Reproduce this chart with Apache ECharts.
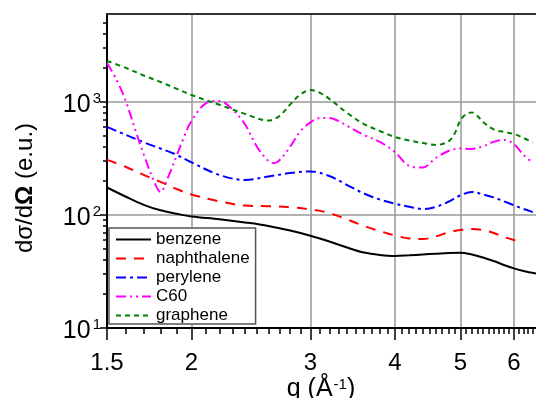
<!DOCTYPE html>
<html><head><meta charset="utf-8">
<script src="https://cdn.jsdelivr.net/npm/echarts@6/dist/echarts.min.js"></script>
<style>html,body{margin:0;padding:0;background:#fff}#c{width:536px;height:398px}</style>
</head><body><div id="c"></div>
<script>
const FONT = '"Liberation Sans", Arial, sans-serif';

// tick values
const xMajorTicks = [1.5, 2, 3, 4, 5, 6];
const xMinorTicks = [1.6, 1.7, 1.8, 1.9, 2.1, 2.2, 2.3, 2.4, 2.5, 2.6, 2.7, 2.8, 2.9,
  3.1, 3.2, 3.3, 3.4, 3.5, 3.6, 3.7, 3.8, 3.9, 4.1, 4.2, 4.3, 4.4, 4.5, 4.6, 4.7, 4.8, 4.9,
  5.1, 5.2, 5.3, 5.4, 5.5, 5.6, 5.7, 5.8, 5.9, 6.1, 6.2, 6.3, 6.4];
const yMajorTicks = [10, 100, 1000];
const yMinorTicks = [20, 30, 40, 50, 60, 70, 80, 90, 200, 300, 400, 500, 600, 700, 800, 900, 2000, 3000, 4000, 5000];
const xTickLabels = ['1.5', '2', '3', '4', '5', '6'];
const yTickExponents = ['1', '2', '3'];

// series data (q in 1/Å, dσ/dΩ in e.u.)
const benzeneQ = [1.5,1.6,1.7,1.8,1.9,2.0,2.2,2.4,2.6,2.8,3.0,3.2,3.4,3.6,3.8,4.0,4.2,4.4,4.6,4.8,5.0,5.2,5.4,5.6,5.8,6.0,6.2,6.47];
const benzene  = [175,145,123,110,102.6,97,91.7,85.9,80,72.9,65.6,58.3,51.5,46.5,44.3,43.4,44,44.7,45.4,46.1,46.4,44.7,42.1,39.2,36.1,33.7,31.9,30.3];

const naphthaleneQ = [1.5,1.6,1.7,1.8,1.9,2.0,2.2,2.4,2.6,2.8,3.0,3.2,3.4,3.6,3.8,4.0,4.2,4.4,4.6,4.8,5.0,5.2,5.4,5.6,5.8,6.0,6.2];
const naphthalene  = [307,266,226,196,170,152,132,121,119.6,117,112,104,91.2,80,72.1,65.9,62,61.3,64.6,70,73.6,75.2,73.6,69.3,63.9,60.1,57.2];

const peryleneQ = [1.5,1.6,1.7,1.8,1.9,2.0,2.2,2.4,2.6,2.8,3.0,3.2,3.4,3.6,3.8,4.0,4.2,4.4,4.6,4.8,5.0,5.2,5.4,5.6,5.8,6.0,6.2,6.4];
const perylene  = [601,511,440,387,341,292,226,204,219,235,243,221,184,155,137,126,118,113,118,131,149,160,152,143,132,122,113,106];

const c60Q = [1.5,1.55,1.6,1.65,1.7,1.75,1.8,1.85,1.9,1.95,2.0,2.1,2.2,2.3,2.4,2.5,2.6,2.65,2.7,2.8,2.9,3.0,3.1,3.2,3.3,3.4,3.6,3.8,4.0,4.2,4.4,4.6,4.8,5.0,5.2,5.4,5.6,5.8,6.0,6.2,6.4];
const c60  = [2213,1567,1009,577,343,217,160,221,330,490,679,970,1021,859,635,402,300,287,305,402,553,659,721,721,679,614,511,443,361,272,263,319,368,387,384,404,443,461,425,340,289];

const grapheneQ = [1.5,1.6,1.7,1.8,1.9,2.0,2.2,2.4,2.6,2.7,2.8,2.9,3.0,3.1,3.2,3.4,3.6,3.8,4.0,4.2,4.4,4.6,4.8,4.9,5.0,5.1,5.2,5.3,5.4,5.6,5.8,6.0,6.2,6.4];
const graphene  = [2307,2000,1714,1503,1310,1153,944,785,685,752,951,1164,1277,1202,1064,800,638,553,490,456,433,416,447,521,686,783,807,752,665,571,543,521,480,438];

const seriesNames = ['benzene', 'naphthalene', 'perylene', 'C60', 'graphene'];

function pairs(xs, ys) { return xs.map((x, i) => [x, ys[i]]); }

const X_MIN = 1.5, X_MAX = 6.47, Y_MIN = 10, Y_MAX = 6000;

function lineSeries(name, data, color, type) {
  return {
    name, type: 'line', data, xAxisIndex: 0, yAxisIndex: 0,
    symbol: 'none', showSymbol: false, smooth: 0.35, clip: true,
    lineStyle: { color, width: 2, type },
    itemStyle: { color }
  };
}

const chart = echarts.init(document.getElementById('c'), null, { renderer: 'canvas' });
const tickStyle = { color: '#000', width: 1.5 };
chart.setOption({
  animation: false,
  backgroundColor: '#fff',
  grid: { left: 107, right: 0, top: 14, bottom: 70, containLabel: false },
  xAxis: [
    {
      type: 'log', logBase: 10, min: X_MIN, max: X_MAX, position: 'bottom',
      axisLine: { show: true, lineStyle: { color: '#000', width: 2 } },
      axisTick: { show: true, customValues: xMajorTicks, length: 12, lineStyle: tickStyle },
      axisLabel: {
        show: true, customValues: xMajorTicks, margin: 23, fontSize: 24, fontFamily: FONT, color: '#000',
        formatter: (v) => { const i = xMajorTicks.findIndex(t => Math.abs(t - v) < 1e-6); return i >= 0 ? xTickLabels[i] : ''; }
      },
      splitLine: { show: true, lineStyle: { color: '#999', width: 1.5 } },
      minorTick: { show: false }
    },
    {
      type: 'log', logBase: 10, min: X_MIN, max: X_MAX, position: 'bottom', gridIndex: 0,
      axisLine: { show: false },
      axisTick: { show: true, customValues: xMinorTicks, length: 6, lineStyle: tickStyle },
      axisLabel: { show: false }, splitLine: { show: false }
    },
    {
      type: 'log', logBase: 10, min: X_MIN, max: X_MAX, position: 'top', gridIndex: 0,
      axisLine: { show: true, lineStyle: { color: '#333', width: 2 } },
      axisTick: { show: false }, axisLabel: { show: false }, splitLine: { show: false }
    }
  ],
  yAxis: [
    {
      type: 'log', logBase: 10, min: Y_MIN, max: Y_MAX, position: 'left',
      axisLine: { show: true, lineStyle: { color: '#000', width: 2 } },
      axisTick: { show: true, customValues: yMajorTicks, length: 7, lineStyle: tickStyle },
      axisLabel: {
        show: true, customValues: yMajorTicks, margin: 6, color: '#000',
        formatter: (v) => { const i = yMajorTicks.findIndex(t => Math.abs(t - v) / t < 1e-6); return i >= 0 ? '{b|10}{s|' + yTickExponents[i] + '}' : ''; },
        rich: {
          b: { fontSize: 25, fontFamily: FONT, color: '#000', lineHeight: 25, padding: [6, 0, 0, 0] },
          s: { fontSize: 15, fontFamily: FONT, color: '#000', lineHeight: 15, padding: [0, 0, 6, 2] }
        }
      },
      splitLine: { show: true, lineStyle: { color: '#999', width: 1.5 } },
      minorTick: { show: false }
    },
    {
      type: 'log', logBase: 10, min: Y_MIN, max: Y_MAX, position: 'left', gridIndex: 0,
      axisLine: { show: false },
      axisTick: { show: true, customValues: yMinorTicks, length: 4, lineStyle: tickStyle },
      axisLabel: { show: false }, splitLine: { show: false }
    }
  ],
  legend: {
    show: true, orient: 'vertical', left: 109, top: 228,
    data: seriesNames,
    itemWidth: 35, itemHeight: 12, itemGap: 2,
    padding: [3, 6, 0, 6],
    itemStyle: { opacity: 0 },
    backgroundColor: '#fff', borderColor: '#555', borderWidth: 1.5, borderRadius: 0,
    textStyle: { fontSize: 17, fontFamily: FONT, color: '#000', lineHeight: 17 }
  },
  graphic: [
    {
      type: 'text', x: 25, y: 188, rotation: Math.PI / 2,
      style: {
        text: 'dσ/d{b|Ω} (e.u.)', fontSize: 24, fontFamily: FONT, fill: '#000',
        align: 'center', verticalAlign: 'middle',
        rich: { b: { fontSize: 24, fontFamily: FONT, fontWeight: 'bold', fill: '#000' } }
      }
    },
    {
      type: 'text', x: 321, y: 389,
      style: {
        text: 'q (Å{s|-1})', fontSize: 25, fontFamily: FONT, fill: '#000',
        align: 'center', verticalAlign: 'middle',
        rich: { s: { fontSize: 15, fontFamily: FONT, lineHeight: 15, padding: [0, 0, 9, 1], fill: '#000' } }
      }
    }
  ],
  series: [
    lineSeries('benzene', pairs(benzeneQ, benzene), '#000000', 'solid'),
    lineSeries('naphthalene', pairs(naphthaleneQ, naphthalene), '#ff0000', [10, 8]),
    lineSeries('perylene', pairs(peryleneQ, perylene), '#0000ff', [10, 4, 3, 4]),
    lineSeries('C60', pairs(c60Q, c60), '#ff00ff', [10, 4, 2, 4, 2, 4]),
    lineSeries('graphene', pairs(grapheneQ, graphene), '#008000', [5, 4])
  ]
});
</script></body></html>
